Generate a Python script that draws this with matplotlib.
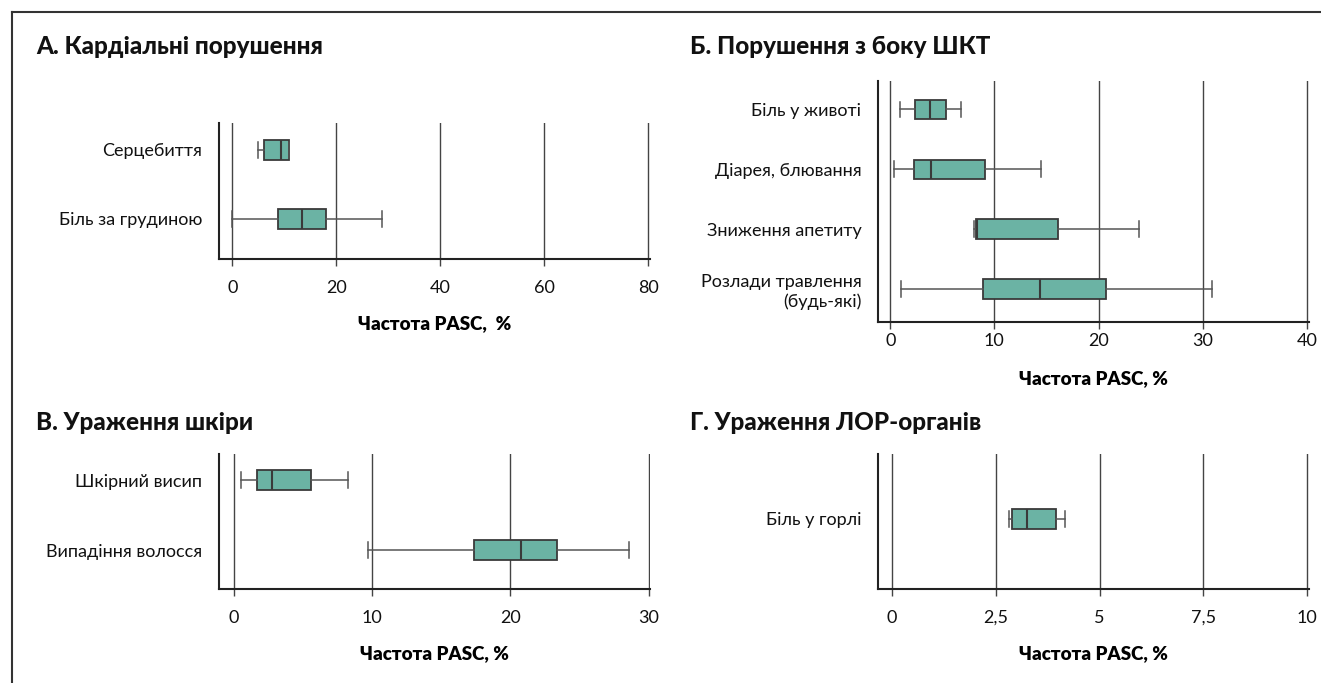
import matplotlib.pyplot as plt
from matplotlib.lines import Line2D

plt.rcParams['font.family'] = ['Lato', 'DejaVu Sans']

# А. Кардіальні порушення
cardio_labels = ['Серцебиття', 'Біль за грудиною']
cardio_lo = [4.9, 0.0]
cardio_q1 = [6.0, 8.7]
cardio_med = [9.3, 13.4]
cardio_q3 = [10.8, 17.9]
cardio_hi = [10.8, 28.8]
cardio_ticks = [0, 20, 40, 60, 80]

# Б. Порушення з боку ШКТ
gi_labels = ['Біль у животі', 'Діарея, блювання', 'Зниження апетиту',
             'Розлади травлення\n(будь-які)']
gi_lo = [0.9, 0.4, 8.05, 1.0]
gi_q1 = [2.4, 2.3, 8.2, 8.9]
gi_med = [3.8, 3.9, 8.35, 14.4]
gi_q3 = [5.4, 9.1, 16.1, 20.7]
gi_hi = [6.8, 14.5, 23.9, 30.9]
gi_ticks = [0, 10, 20, 30, 40]

# В. Ураження шкіри
skin_labels = ['Шкірний висип', 'Випадіння волосся']
skin_lo = [0.5, 9.7]
skin_q1 = [1.7, 17.4]
skin_med = [2.8, 20.8]
skin_q3 = [5.6, 23.4]
skin_hi = [8.3, 28.6]
skin_ticks = [0, 10, 20, 30]

# Г. Ураження ЛОР-органів
ent_labels = ['Біль у горлі']
ent_lo = [2.83]
ent_q1 = [2.9]
ent_med = [3.26]
ent_q3 = [3.96]
ent_hi = [4.16]
ent_ticks = [0, 2.5, 5, 7.5, 10]
ent_ticklabels = ['0', '2,5', '5', '7,5', '10']

W, H = 1321, 683
BOX = '#6bb3a4'
EDGE = '#3a3a3a'
GRID = '#444444'

fig = plt.figure(figsize=(W / 100, H / 100), dpi=100)


def px_rect(x0, y0, x1, y1):
    return [x0 / W, 1 - y1 / H, (x1 - x0) / W, (y1 - y0) / H]


def draw_panel(rect, title, tx, ty, labels, lo, q1, med, q3, hi,
               ticks, ticklabels, xlim, ylim, width, xlabel,
               tickpad=10, labelpad=14):
    ax = fig.add_axes(rect)
    stats = []
    for i in range(len(labels)):
        stats.append(dict(whislo=lo[i], q1=q1[i], med=med[i], q3=q3[i],
                          whishi=hi[i], fliers=[], label=labels[i]))
    pos = list(range(1, len(labels) + 1))
    ax.bxp(stats, positions=pos, vert=False, widths=width,
           capwidths=width * 0.8, patch_artist=True, showfliers=False,
           boxprops=dict(facecolor=BOX, edgecolor=EDGE, linewidth=1.3),
           medianprops=dict(color=EDGE, linewidth=1.5),
           whiskerprops=dict(color='#555555', linewidth=1.1),
           capprops=dict(color='#555555', linewidth=1.1),
           zorder=3)
    ax.set_xlim(*xlim)
    ax.set_ylim(*ylim)
    ax.set_xticks(ticks)
    ax.set_xticklabels(ticklabels if ticklabels else [str(t) for t in ticks])
    ax.set_yticks(pos)
    ax.set_yticklabels(labels, ha='right', multialignment='right')
    for t in ticks:
        ax.axvline(t, color=GRID, linewidth=1.0, zorder=1)
    for s in ['top', 'right']:
        ax.spines[s].set_visible(False)
    for s in ['left', 'bottom']:
        ax.spines[s].set_color('#222222')
        ax.spines[s].set_linewidth(1.5)
    ax.tick_params(axis='x', length=5, width=1.0, color=GRID,
                   labelsize=13, pad=tickpad, labelcolor='#111111')
    ax.tick_params(axis='y', length=0, labelsize=13, pad=12,
                   labelcolor='#111111')
    ax.set_xlabel(xlabel, fontsize=13.5, fontweight='heavy',
                  labelpad=labelpad)
    fig.text(tx / W, 1 - ty / H, title, fontsize=17.5, fontweight='black',
             va='center', ha='left', color='#111111')
    return ax


draw_panel(px_rect(219, 123, 650, 259), 'А. Кардіальні порушення', 36, 46,
           cardio_labels, cardio_lo, cardio_q1, cardio_med, cardio_q3, cardio_hi,
           cardio_ticks, None, (-2.58, 80.3), (2.58, 0.61), 0.28,
           'Частота PASC,  %')
draw_panel(px_rect(878, 81, 1309, 322), 'Б. Порушення з боку ШКТ', 690, 46,
           gi_labels, gi_lo, gi_q1, gi_med, gi_q3, gi_hi,
           gi_ticks, None, (-1.17, 40.2), (4.55, 0.53), 0.32,
           'Частота PASC, %', tickpad=3, labelpad=15)
draw_panel(px_rect(219, 454, 650, 589), 'В. Ураження шкіри', 36, 423,
           skin_labels, skin_lo, skin_q1, skin_med, skin_q3, skin_hi,
           skin_ticks, None, (-1.06, 30.1), (2.55, 0.63), 0.28,
           'Частота PASC, %')
draw_panel(px_rect(878, 454, 1309, 589), 'Г. Ураження ЛОР-органів', 690, 423,
           ent_labels, ent_lo, ent_q1, ent_med, ent_q3, ent_hi,
           ent_ticks, ent_ticklabels, (-0.34, 10.05), (1.98, 0.09), 0.28,
           'Частота PASC, %')

# frame (top and left edges only)
fig.add_artist(Line2D([12 / W, 1], [1 - 12 / H, 1 - 12 / H],
                      color='#333333', linewidth=1.5))
fig.add_artist(Line2D([12 / W, 12 / W], [0, 1 - 12 / H],
                      color='#333333', linewidth=1.5))

fig.savefig('out.png', dpi=100)
